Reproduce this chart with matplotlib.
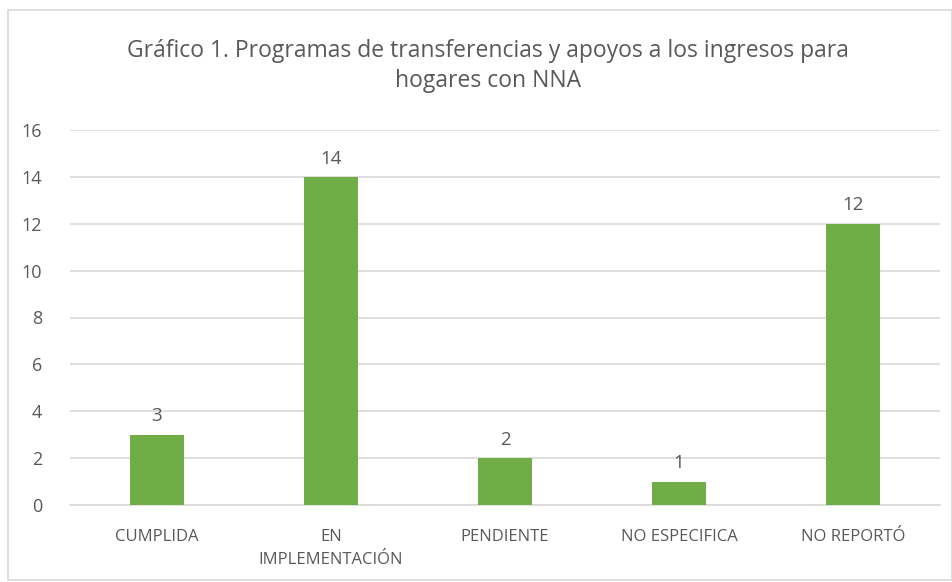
import matplotlib
matplotlib.use('Agg')
import matplotlib.pyplot as plt
from matplotlib.patches import Rectangle

# datos
categorias = ["CUMPLIDA", "EN\nIMPLEMENTACIÓN", "PENDIENTE", "NO ESPECIFICA", "NO REPORTÓ"]
valores = [3, 14, 2, 1, 12]
y_ticks = [0, 2, 4, 6, 8, 10, 12, 14, 16]

TEXTO = '#595959'
VERDE = '#70AD47'
GRID = '#D9D9D9'

plt.rcParams['font.family'] = ['Open Sans', 'DejaVu Sans']

fig = plt.figure(figsize=(9.53, 5.82), dpi=100)
fig.patch.set_facecolor('white')

# borde del gráfico (estilo Excel)
fig.patches.append(Rectangle((8 / 953, 2 / 582), 944 / 953, 570 / 582,
                             transform=fig.transFigure, fill=False,
                             edgecolor='#D9D9D9', linewidth=1.2))

ax = fig.add_axes([70 / 953, 1 - 505 / 582, 870 / 953, 375 / 582])

x = range(len(categorias))
bars = ax.bar(x, valores, width=0.31, color=VERDE, zorder=3)
for bar, v in zip(bars, valores):
    ax.text(bar.get_x() + bar.get_width() / 2, v + 0.4, str(v),
            ha='center', va='bottom', fontsize=13.5, color=TEXTO)

ax.set_xlim(-0.5, len(categorias) - 0.5)
ax.set_ylim(0, 16)
ax.set_yticks(y_ticks)
ax.set_xticks(list(x))
ax.set_xticklabels(categorias, fontsize=12, color=TEXTO, linespacing=1.6)
ax.tick_params(axis='y', labelsize=13, labelcolor=TEXTO, length=0, pad=20)
ax.tick_params(axis='x', length=0, pad=17)

ax.grid(axis='y', color=GRID, linewidth=1.2, zorder=0)
for s in ['top', 'right', 'left']:
    ax.spines[s].set_visible(False)
ax.spines['bottom'].set_color(GRID)
ax.spines['bottom'].set_linewidth(1.2)

fig.text(488 / 953, 1 - 66 / 582,
         "Gráfico 1. Programas de transferencias y apoyos a los ingresos para\nhogares con NNA",
         ha='center', va='center', fontsize=16.5, color=TEXTO, linespacing=1.35)

plt.savefig('out.png', dpi=100, facecolor='white')
